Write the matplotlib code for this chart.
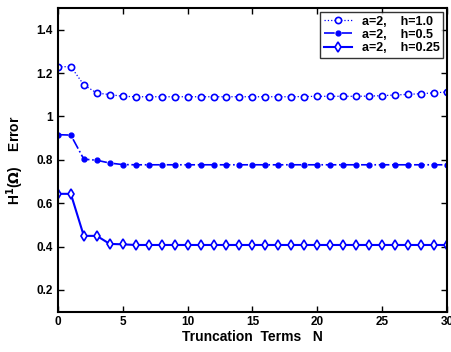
import matplotlib
matplotlib.use("Agg")
import matplotlib.pyplot as plt
from matplotlib.ticker import FormatStrFormatter
import numpy as np

N = list(range(31))
err_h10 = [1.229, 1.230, 1.146, 1.108, 1.101, 1.093, 1.091, 1.091, 1.091, 1.091,
           1.091, 1.091, 1.091, 1.091, 1.091, 1.091, 1.091, 1.091, 1.091, 1.092,
           1.093, 1.093, 1.093, 1.093, 1.094, 1.096, 1.099, 1.102, 1.105, 1.109, 1.113]
err_h05 = [0.916, 0.914, 0.803, 0.798, 0.785, 0.778] + [0.777] * 25
err_h025 = [0.643, 0.643, 0.449, 0.449, 0.412, 0.410] + [0.407] * 25
labels = ["a=2,    h=1.0", "a=2,    h=0.5", "a=2,    h=0.25"]

plt.rcParams['font.family'] = ['Liberation Sans', 'DejaVu Sans']
plt.rcParams['font.weight'] = 'bold'
plt.rcParams['mathtext.default'] = 'bf'

fig = plt.figure(figsize=(4.52, 3.52), dpi=100)
ax = fig.add_axes([0.128, 0.115, 0.861, 0.862])
blue = (0, 0, 1)
ax.plot(N, err_h10, ':', color=blue, marker='o', mfc='white', mec=blue, ms=4.5, mew=1.2, lw=0.9, label=labels[0])
ax.plot(N, err_h05, '-.', color=blue, marker='o', mfc=blue, mec=blue, ms=3.5, lw=1.2, label=labels[1])
ax.plot(N, err_h025, '-', color=blue, marker='d', mfc='white', mec=blue, ms=5, mew=1.2, lw=1.5, label=labels[2])

ax.set_xlim(0, 30)
ax.set_ylim(0.1, 1.5)
ax.set_xticks(range(0, 31, 5))
ax.set_yticks([0.2, 0.4, 0.6, 0.8, 1.0, 1.2, 1.4])
ax.yaxis.set_major_formatter(FormatStrFormatter('%g'))
ax.tick_params(direction='in', top=True, right=True, labelsize=8.5, width=1, length=4)
for lab in ax.get_xticklabels() + ax.get_yticklabels():
    lab.set_fontweight('bold')
for s in ax.spines.values():
    s.set_linewidth(1.5)
ax.set_xlabel('Truncation  Terms   N', fontsize=10, fontweight='bold', labelpad=1)
ax.set_ylabel(r'H$^\mathbf{1}$($\Omega$)    Error', fontsize=10, fontweight='bold', labelpad=8)
leg = ax.legend(loc='upper right', fontsize=9, frameon=True, fancybox=False,
                edgecolor='black', borderaxespad=0.3, handlelength=2.2,
                borderpad=0.3, labelspacing=0.1)
leg.get_frame().set_linewidth(1.0)
for t in leg.get_texts():
    t.set_fontweight('bold')
fig.savefig('out.png', dpi=100)
